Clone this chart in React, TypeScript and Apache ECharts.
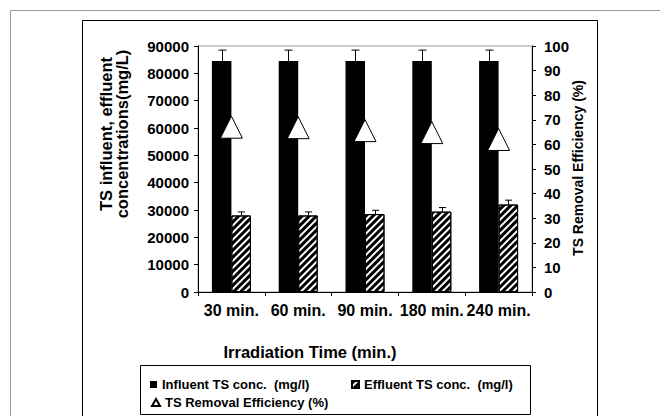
import React, { useEffect, useRef } from "react";
import * as echarts from "echarts";

const categories = ["30 min.", "60 min.", "90 min.", "180 min.", "240 min."];
const influent = [84500, 84500, 84500, 84500, 84500];
const influentErr = [4000, 4000, 4000, 4000, 4000];
const effluent = [28000, 28000, 28500, 29400, 32000];
const effluentErr = [1300, 1300, 1400, 1500, 1600];
const efficiency = [67, 66.8, 65.6, 64.8, 62];
const leftTicks = { min: 0, max: 90000, interval: 10000 };
const rightTicks = { min: 0, max: 100, interval: 10 };

const NAME_IN = "Influent TS conc.  (mg/l)";
const NAME_EF = "Effluent TS conc.  (mg/l)";
const NAME_EFF = "TS Removal Efficiency (%)";

const FONT = "'Liberation Sans', Arial, Helvetica, sans-serif";
const BAR_W = 19.5;

function errorSeries(values: number[], errs: number[], sign: number, capW: number) {
  return {
    type: "custom",
    z: 5,
    silent: true,
    data: values.map((v, i) => [i, v, errs[i]]),
    renderItem: (params: any, api: any) => {
      const i = api.value(0);
      const v = api.value(1);
      const e = api.value(2);
      const p0 = api.coord([i, v]);
      const p1 = api.coord([i, v + e]);
      const x = Math.round(p0[0] + sign * BAR_W / 2) + 0.5;
      const style = { stroke: "#000", lineWidth: 1 };
      return {
        type: "group",
        children: [
          { type: "line", shape: { x1: x, y1: p0[1], x2: x, y2: p1[1] }, style },
          { type: "line", shape: { x1: x - capW / 2, y1: p1[1], x2: x + capW / 2, y2: p1[1] }, style },
        ],
      };
    },
  };
}

export default function App() {
  const ref = useRef<HTMLDivElement>(null);
  useEffect(() => {
    const chart = echarts.init(ref.current!, null, { renderer: "svg" });
    const hatch = {
      symbol: "rect",
      color: "#000",
      backgroundColor: "#fff",
      dashArrayX: [1, 0],
      dashArrayY: [3, 2],
      rotation: -Math.PI / 4,
    };
    const legendText = { fontSize: 13, fontWeight: "bold", color: "#000", fontFamily: FONT };
    chart.setOption({
      animation: false,
      backgroundColor: "#fff",
      textStyle: { fontFamily: FONT },
      grid: {
        left: 198, right: 128, top: 46, bottom: 124,
        show: true, borderColor: "#999", borderWidth: 1, backgroundColor: "transparent",
      },
      legend: [
        {
          left: 150, top: 378, padding: 0, itemWidth: 7, itemHeight: 7, selectedMode: false,
          textStyle: legendText, data: [{ name: NAME_IN, icon: "rect" }],
        },
        {
          left: 351, top: 378, padding: 0, itemWidth: 7, itemHeight: 7, selectedMode: false,
          textStyle: legendText, data: [{ name: NAME_EF, icon: "rect" }],
        },
        {
          left: 151, top: 396, padding: 0, itemWidth: 8, itemHeight: 7, selectedMode: false,
          textStyle: legendText, data: [{ name: NAME_EFF, icon: "triangle" }],
        },
      ],
      xAxis: {
        type: "category",
        data: categories,
        axisLine: { lineStyle: { color: "#000", width: 1 } },
        axisTick: { show: true, length: 4, lineStyle: { color: "#000" } },
        axisLabel: { color: "#000", fontSize: 16, fontWeight: "bold", margin: 10, interval: 0, fontFamily: FONT },
      },
      yAxis: [
        {
          type: "value",
          ...leftTicks,
          axisLine: { show: true, lineStyle: { color: "#000" } },
          axisTick: { show: true, length: 4, lineStyle: { color: "#000" } },
          splitLine: { show: false },
          axisLabel: {
            color: "#000", fontSize: 15, fontWeight: "bold", margin: 9, fontFamily: FONT,
            formatter: (v: number) => String(v),
          },
        },
        {
          type: "value",
          ...rightTicks,
          position: "right",
          axisLine: { show: true, lineStyle: { color: "#000" } },
          axisTick: { show: true, length: 4, lineStyle: { color: "#000" } },
          splitLine: { show: false },
          axisLabel: { color: "#000", fontSize: 15, fontWeight: "bold", margin: 12, fontFamily: FONT },
        },
      ],
      series: [
        {
          name: NAME_IN,
          type: "bar",
          data: influent,
          barWidth: BAR_W,
          barGap: "0%",
          itemStyle: { color: "#000" },
        },
        {
          name: NAME_EF,
          type: "bar",
          data: effluent,
          barWidth: BAR_W,
          barGap: "0%",
          itemStyle: { color: "#fff", borderColor: "#000", borderWidth: 1, decal: hatch },
        },
        errorSeries(influent, influentErr, -1, 8),
        errorSeries(effluent, effluentErr, 1, 7),
        {
          name: NAME_EFF,
          type: "scatter",
          yAxisIndex: 1,
          data: efficiency,
          symbol: "triangle",
          symbolSize: [22, 22],
          z: 10,
          itemStyle: { color: "#fff", borderColor: "#000", borderWidth: 1, opacity: 1 },
        },
      ],
      graphic: [
        {
          type: "rect", silent: true, z: -1,
          shape: { x: 10.5, y: 10.5, width: 700, height: 500 },
          style: { fill: "none", stroke: "#999", lineWidth: 1 },
        },
        {
          type: "rect", silent: true, z: -1,
          shape: { x: 82.5, y: 20.5, width: 515, height: 500 },
          style: { fill: "none", stroke: "#000", lineWidth: 1 },
        },
        {
          type: "rect", silent: true, z: -1,
          shape: { x: 140.5, y: 365.5, width: 390, height: 49 },
          style: { fill: "none", stroke: "#000", lineWidth: 1 },
        },
        {
          type: "text", silent: true,
          x: 114, y: 134, rotation: Math.PI / 2,
          style: {
            text: "TS influent, effluent\nconcentrations(mg/L)",
            fontSize: 16.5, fontWeight: "bold", fill: "#000", fontFamily: FONT,
            align: "center", verticalAlign: "middle", lineHeight: 16,
          },
        },
        {
          type: "text", silent: true,
          x: 578, y: 168, rotation: Math.PI / 2,
          style: {
            text: NAME_EFF,
            fontSize: 14, fontWeight: "bold", fill: "#000", fontFamily: FONT,
            align: "center", verticalAlign: "middle",
          },
        },
        {
          type: "text", silent: true,
          x: 310, y: 352,
          style: {
            text: "Irradiation Time (min.)",
            fontSize: 16.5, fontWeight: "bold", fill: "#000", fontFamily: FONT,
            align: "center", verticalAlign: "middle",
          },
        },
      ],
    });
    return () => chart.dispose();
  }, []);
  return <div ref={ref} style={{ width: 660, height: 416, position: "absolute", left: 0, top: 0 }} />;
}
